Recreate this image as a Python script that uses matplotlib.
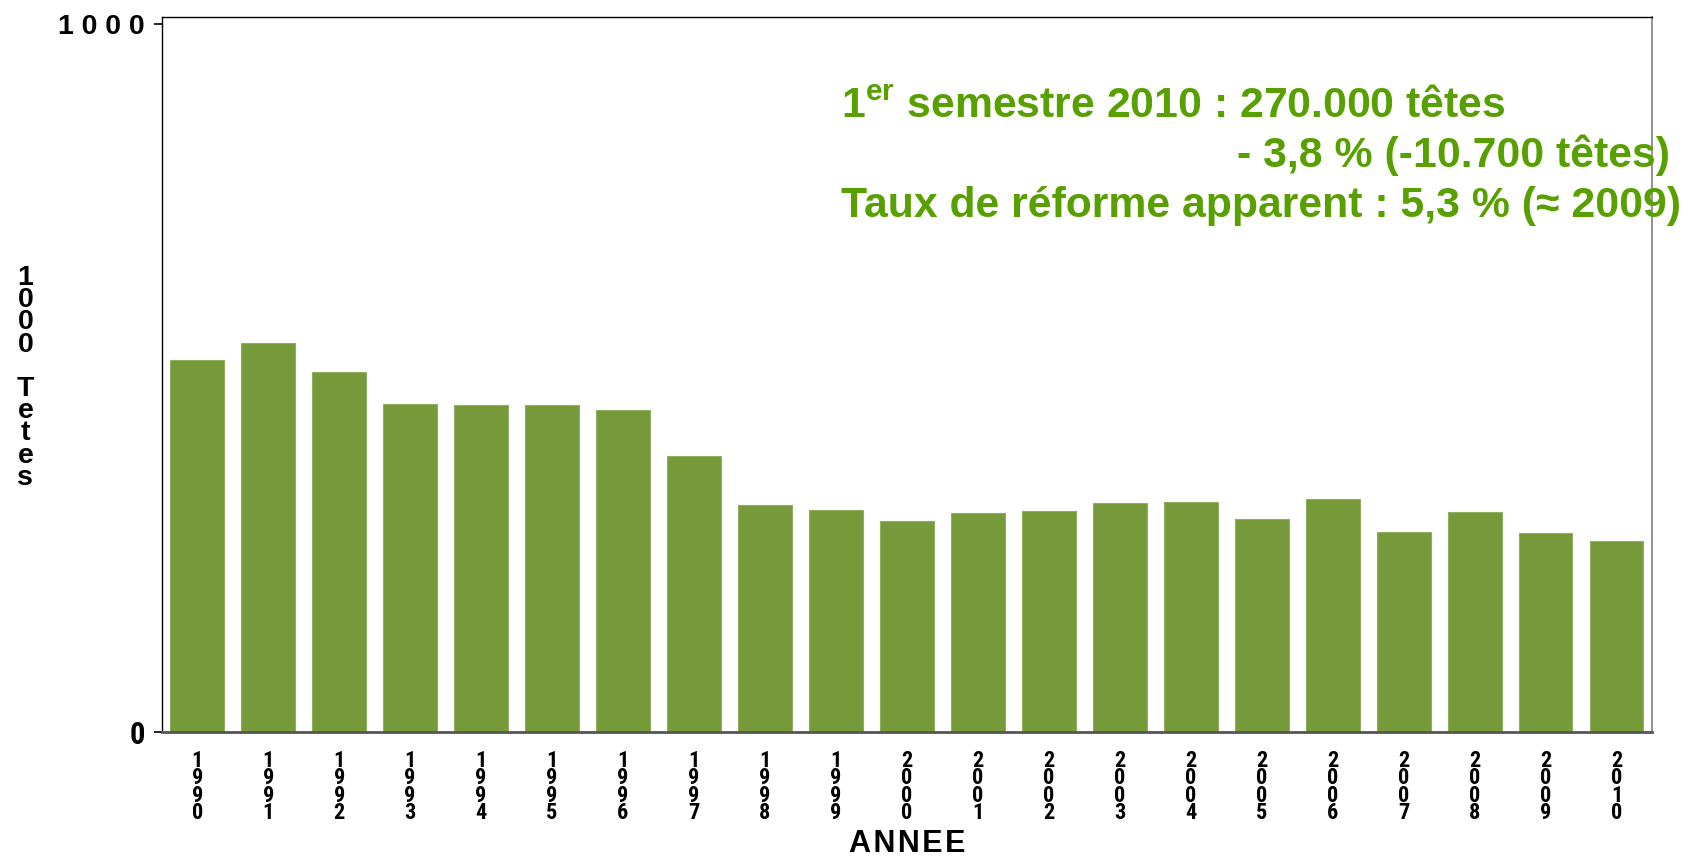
import numpy as np
import matplotlib.pyplot as plt

plt.rcParams['font.family'] = ['Liberation Sans', 'DejaVu Sans']
plt.rcParams['mathtext.fontset'] = 'custom'
plt.rcParams['mathtext.rm'] = 'Liberation Sans:bold'
plt.rcParams['mathtext.bf'] = 'Liberation Sans:bold'
NARROW = ['Roboto Condensed', 'Liberation Sans']

# données (milliers de têtes)
annees = list(range(1990, 2011))
tetes = [525, 549, 508, 463, 461, 461, 454, 390, 321, 314, 298,
         309, 312, 323, 324, 301, 329, 283, 311, 281, 270]
ytick_vals = [0, 1000]
ytick_labels = ['0', '1 0 0 0']

BAR = '#76993a'
TXT = '#58a000'


def draw():
    fig = plt.figure(figsize=(16.9, 8.63), dpi=100)
    ax = fig.add_axes([0.0957, 0.1518, 0.8818, 0.8282])

    x = np.arange(len(annees))
    ax.bar(x, tetes, width=0.76, color=BAR, edgecolor='#8fae62',
           linewidth=0.8, zorder=2)

    ax.set_xlim(-0.5, len(annees) - 0.5)
    ax.set_ylim(0, 1009)

    ax.set_xticks(x)
    ax.set_xticklabels(['\n'.join(str(a)) for a in annees], fontfamily=NARROW,
                       fontweight='bold', fontsize=16, linespacing=0.72)
    ax.tick_params(axis='x', length=0, pad=13)

    ax.set_yticks(ytick_vals)
    ax.set_yticklabels(ytick_labels, fontweight='bold', fontsize=20.5)
    ax.get_yticklabels()[0].set_fontfamily(NARROW)
    ax.get_yticklabels()[0].set_fontsize(22)
    ax.tick_params(axis='y', length=6, width=1.2, pad=6)

    for s in ['left', 'top']:
        ax.spines[s].set_color('black')
        ax.spines[s].set_linewidth(1.0)
    ax.spines['right'].set_color('#808080')
    ax.spines['right'].set_linewidth(1.2)
    ax.spines['bottom'].set_color('#555555')
    ax.spines['bottom'].set_linewidth(2)

    # axe y : texte empilé
    fig.text(0.015, 0.562, '\n'.join('1000') + '\n\n' + '\n'.join('Tetes'),
             fontweight='bold', fontsize=20.5, linespacing=0.81,
             ha='center', va='center')
    ax.set_xlabel('A\u200aN\u200aN\u200aE\u200aE', fontweight='bold',
                  fontsize=22, labelpad=4)

    # encadré texte
    kw = dict(transform=fig.transFigure, color=TXT, fontsize=30.8,
              fontweight='bold')
    fig.text(0.4976, 1 - 117 / 863, r'1$^{\mathrm{er}}$ semestre 2010 : 270.000 têtes',
             ha='left', va='baseline', **kw)
    fig.text(0.9882, 1 - 167 / 863, '- 3,8 % (-10.700 têtes)',
             ha='right', va='baseline', **kw)
    fig.text(0.4976, 1 - 217 / 863, 'Taux de réforme apparent : 5,3 % (≈ 2009)',
             ha='left', va='baseline', **kw)

    fig.savefig('out.png', dpi=100)


if __name__ == "__main__":
    draw()
